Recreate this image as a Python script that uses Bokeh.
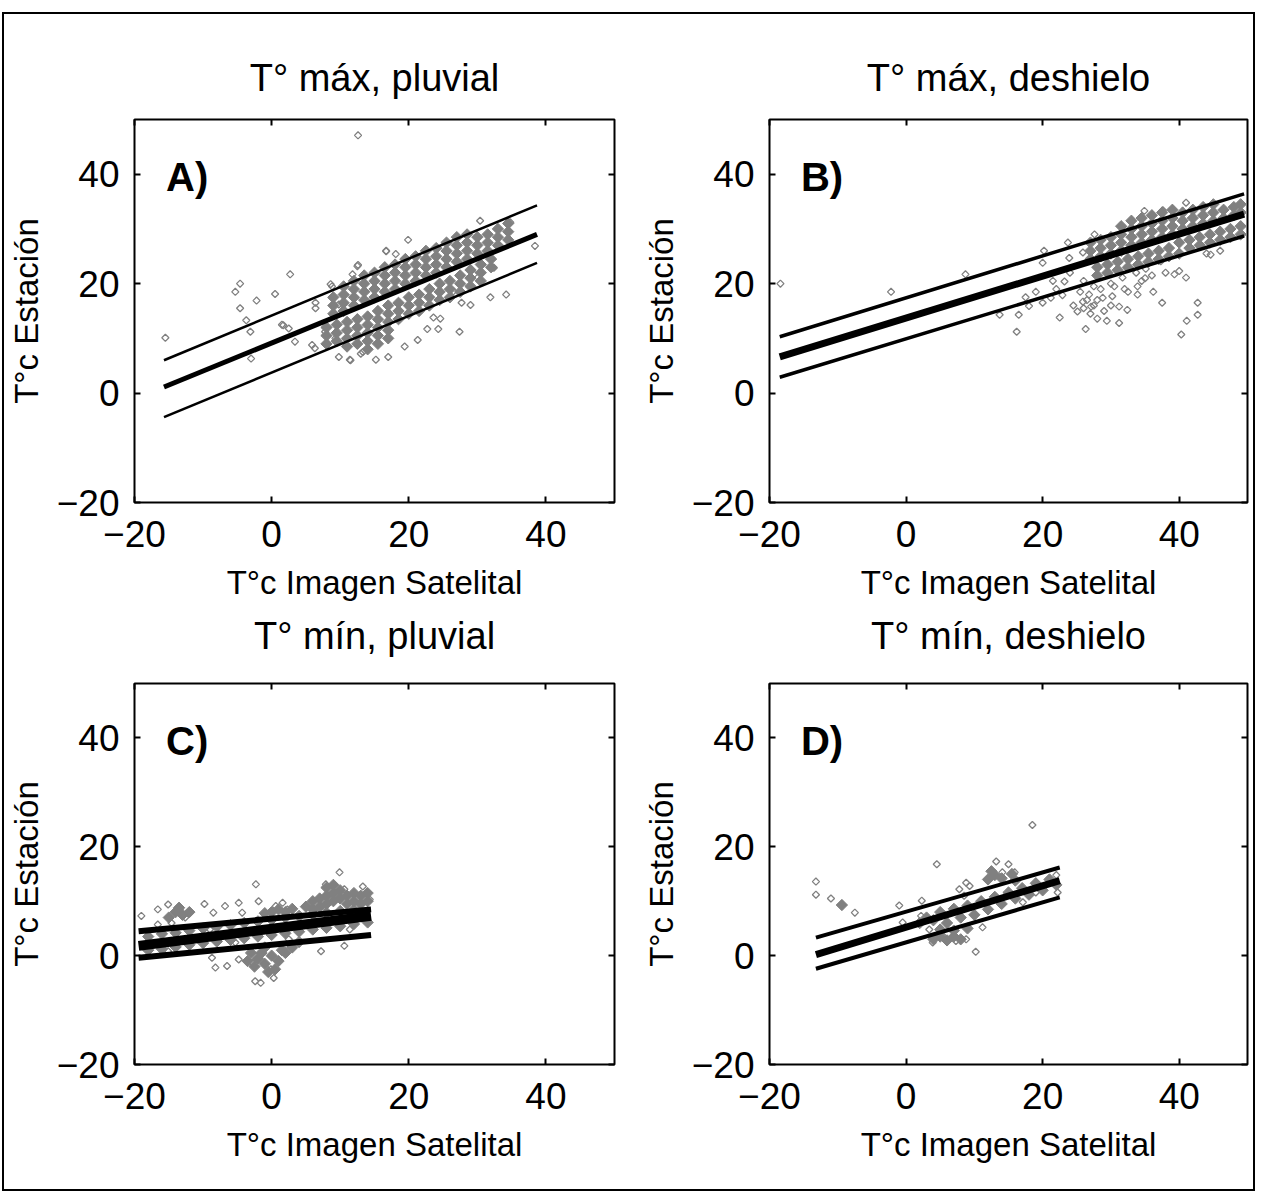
from bokeh.plotting import figure
from bokeh.models import Range1d, FixedTicker, LinearAxis, Label, Title
from bokeh.layouts import column, row
from bokeh.embed import file_html
from bokeh.resources import INLINE

FONT = "Liberation Sans"

# ---------------- data ----------------
titles = ["T° máx, pluvial", "T° máx, deshielo", "T° mín, pluvial", "T° mín, deshielo"]
panel_labels = ["A)", "B)", "C)", "D)"]
x_label = "T°c Imagen Satelital"
y_label = "T°c Estación"
ticks = [-20, 0, 20, 40]

# Panel A : isolated points
a_x = [12.6, -15.5, 2.7, -4.6, -5.3, 0.5, -2.2, -4.6, -3.7, -3.1, 1.7, 3.4, 6.3, 9.8, 11.4, 13.3, 15.2, 17.0, 19.4, 21.3,
       22.7, 24.3, 27.4, 31.9, 34.2, 38.4, 34.8, 30.4, 19.9, 16.7, 12.6, 8.6, 6.4, -3.0, 1.5, 2.5, 6.4, 8.8, 9.8, 7.8,
       9.3, 5.9, 11.5, 13.0, 11.8, 12.5, 16.7, 18.1, 8.8, 32.4, 29.5, 26.5, 29.0, 27.7, 23.6, 24.6]
a_y = [47.1, 10.1, 21.7, 20.0, 18.5, 18.1, 16.9, 15.5, 13.3, 11.2, 12.4, 9.4, 8.2, 6.6, 6.1, 7.5, 6.1, 6.6, 8.5, 9.7,
       11.7, 11.7, 11.2, 17.5, 18.0, 26.9, 31.2, 31.5, 28.0, 25.9, 23.4, 19.9, 16.5, 6.3, 12.5, 11.8, 15.5, 17.4, 16.2, 11.2,
       10.0, 8.8, 6.0, 7.2, 21.7, 23.2, 26.0, 25.4, 19.5, 22.9, 21.7, 18.6, 16.1, 16.5, 13.8, 13.6]
# Panel A : dense cloud
a_dx = [9, 9, 9, 10.5, 10.5, 10.5, 10.5, 12, 12, 12, 12, 13.5, 13.5, 13.5, 13.5, 15, 15, 15, 15, 16.5, 16.5, 16.5, 16.5,
        18, 18, 18, 18, 19.5, 19.5, 19.5, 19.5, 21, 21, 21, 21, 22.5, 22.5, 22.5, 22.5, 24, 24, 24, 24,
        25.5, 25.5, 25.5, 25.5, 27, 27, 27, 27, 28.5, 28.5, 28.5, 28.5, 30, 30, 30, 31.5, 31.5, 31.5, 33, 33, 33,
        34.5, 34.5, 34.5,
        8, 8, 8, 9.5, 9.5, 9.5, 11, 11, 11, 11, 12.5, 12.5, 12.5, 12.5, 14, 14, 14, 14, 14, 15.5, 15.5, 15.5, 15.5, 15.5,
        17, 17, 17, 17, 17, 18.5, 18.5, 18.5, 20, 20, 20, 21.5, 21.5, 21.5, 23, 23, 23, 24.5, 24.5, 24.5,
        26, 26, 26, 27.5, 27.5, 27.5, 29, 29, 29, 30.5, 30.5, 30.5, 32, 32]
a_dy = [14.5, 16, 17.5, 15, 16.5, 18, 19.5, 16, 17.5, 19, 20.5, 17, 18.5, 20, 21.5, 17.5, 19, 20.5, 22, 18.5, 20, 21.5, 23,
        19, 20.5, 22, 23.5, 20, 21.5, 23, 24.5, 20.5, 22, 23.5, 25, 21.5, 23, 24.5, 26, 22, 23.5, 25, 26.5,
        23, 24.5, 26, 27.5, 24, 25.5, 27, 28.5, 24.5, 26, 27.5, 29, 25.5, 27, 28.5, 26, 27.5, 29, 27, 28.5, 30,
        28, 29.5, 31,
        9, 10.5, 12, 9.5, 11, 12.5, 8.5, 10, 11.5, 13, 9, 10.5, 12, 13.5, 8, 9.5, 11, 12.5, 14, 9, 10.5, 12, 13.5, 15,
        10, 11.5, 13, 14.5, 16, 13.5, 15, 16.5, 14.5, 16, 17.5, 15, 16.5, 18, 16, 17.5, 19, 17, 18.5, 20,
        17.5, 19, 20.5, 18.5, 20, 21.5, 19.5, 21, 22.5, 20.5, 22, 23.5, 23, 24.5]
a_fit_x = [-15.7, 38.7]
a_fit_y = [1.1, 29.0]
a_up_y = [6.0, 34.3]
a_lo_y = [-4.4, 23.8]

# Panel B : isolated points
b_x = [-18.4, -2.2, 8.7, 13.7, 16.2, 16.5, 18.0, 20.0, 21.2, 22.5, 26.3, 25.1, 25.9, 26.8, 27.1, 28.0, 29.4, 31.2, 31.2, 32.4,
       28.8, 30.2, 33.9, 33.9, 36.2, 37.5, 39.3, 40.0, 41.0, 42.7, 42.7, 41.1, 40.3, 44.6, 20.0, 23.7, 20.2, 23.2, 22.9, 33.7,
       31.7, 35.1, 37.3, 41.0, 37.6, 34.9, 27.6, 25.9, 23.9,
       26.5, 27.5, 28.0, 26.0, 27.0, 29.0, 30.0, 24.5, 25.5, 28.5, 30.5, 32.5, 34.5, 36.0, 22.0, 19.0, 17.5, 21.5,
       24, 26, 27.5, 30, 32, 35, 38, 44, 46]
b_y = [20.0, 18.5, 21.7, 14.3, 11.2, 14.3, 15.9, 16.5, 17.4, 13.8, 11.7, 14.9, 16.7, 18.0, 15.8, 13.6, 13.2, 12.8, 15.8, 15.2,
       17.4, 17.7, 18.0, 19.5, 18.5, 16.5, 21.7, 22.3, 21.1, 16.5, 14.3, 13.2, 10.7, 25.3, 23.8, 27.5, 26.0, 20.4, 17.9, 22.0,
       21.1, 22.7, 24.1, 34.8, 33.4, 33.3, 29.0, 25.7, 24.7,
       17.0, 16.0, 17.0, 15.5, 14.5, 15.0, 16.0, 16.0, 18.5, 19.0, 19.5, 18.5, 20.5, 21.5, 19.0, 18.5, 17.5, 20.5,
       22, 20.5, 19.5, 20, 19, 21, 22, 25.5, 26]
# Panel B : dense cloud
b_dx = [27, 27, 27, 28.5, 28.5, 28.5, 30, 30, 30, 31.5, 31.5, 31.5, 31.5, 33, 33, 33, 33, 34.5, 34.5, 34.5, 34.5,
        36, 36, 36, 36, 37.5, 37.5, 37.5, 37.5, 39, 39, 39, 39, 40.5, 40.5, 40.5, 42, 42, 42, 43.5, 43.5, 43.5,
        45, 45, 45, 46.5, 46.5, 48, 48, 49, 49,
        28, 28, 29.5, 29.5, 31, 31, 32.5, 32.5, 34, 34, 35.5, 35.5, 37, 37, 38.5, 38.5, 40, 40, 41.5, 41.5,
        43, 43, 44.5, 44.5, 46, 46, 47.5, 47.5, 49, 49]
b_dy = [24.5, 26, 27.5, 25, 26.5, 28, 25.5, 27, 28.5, 26, 27.5, 29, 30.5, 27, 28.5, 30, 31.5, 27.5, 29, 30.5, 32,
        28, 29.5, 31, 32.5, 28.5, 30, 31.5, 33, 29, 30.5, 32, 33.5, 30, 31.5, 33, 30.5, 32, 33.5, 31, 32.5, 34,
        31.5, 33, 34.5, 32, 33.5, 32.5, 34, 33, 34.5,
        21.5, 23, 22, 23.5, 22.5, 24, 23, 24.5, 23.5, 25, 24, 25.5, 24.5, 26, 25, 26.5, 25.5, 27.5, 26.5, 28,
        27, 28.5, 27.5, 29, 28, 29.5, 28.5, 30, 29, 30.5]
b_fit_x = [-18.5, 49.5]
b_fit_y = [6.6, 32.7]
b_up_y = [10.3, 36.4]
b_lo_y = [2.9, 28.7]

# Panel C : isolated points
c_x = [9.9, -2.3, 10.6, 13.3, -19.0, -16.6, -15.1, -13.4, -12.6, -16.6, -14.6, -9.8, -8.5, -6.8, -4.8, -4.3, -1.9, 0.6, 1.6, 2.3,
       7.9, 7.7, 14.3, 11.4, 10.6, 7.2, -18.0, -15.1, -8.7, -8.2, -6.5, -4.8, -2.8, -2.4, -1.6, -0.1, 0.3, -9.0, -5.3, 2.5]
c_y = [15.3, 13.1, 12.2, 12.7, 7.3, 8.5, 9.4, 8.5, 7.0, 5.7, 6.0, 9.5, 7.9, 9.1, 9.7, 7.9, 10.0, 9.1, 9.7, 8.5,
       13.1, 9.1, 10.3, 4.8, 1.8, 0.8, 3.3, 0.8, -0.4, -2.2, -1.9, -0.7, -1.3, -4.7, -5.0, -2.5, -4.1, 4.8, 2.4, 3.0]
# Panel C : dense cloud
c_dx = [5, 6, 7, 7, 8, 8, 9, 9, 10, 10, 11, 11, 12, 12, 13, 13, 14, 14, 8, 9, 6,
        -18, -16, -14, -12, -10, -8, -6, -4, -2, 0, 2, 4, 6, 8, 10, 12,
        -18, -16, -14, -12, -10, -8, -6, -4, -2, 0, 2, 4, 6, 8, 10, 12, 14,
        -3, -2, -1, 0, 1, 2, -2.5, -1.5, 0.5, 1.5, -3.5, -0.5, 3, 4, -1,
        -14, -13, -12, -15, -13.5, 0, 1, 2, -1, 3]
c_dy = [9, 10, 10.5, 9, 11, 9.5, 10, 11.5, 10.5, 12, 9.5, 11, 10, 11.5, 9.5, 11, 10, 11.5, 12.5, 13, 8.5,
        3.5, 4, 4.2, 4.6, 5, 5.3, 5.6, 6, 6.3, 6.6, 7, 7.3, 7.6, 7.9, 8.2, 8.4,
        1, 1.2, 1.6, 2, 2.3, 2.6, 2.9, 3.2, 3.5, 3.8, 4.1, 4.4, 4.8, 5.1, 5.4, 5.8, 6.1,
        0.5, -0.5, -1.5, 0, -1, 0.5, -2, 0.5, -2.5, 1, -1, -3, 1.5, 2.5, 1.5,
        8, 7.5, 8, 7, 8.8, 8, 8.5, 8, 7.8, 8.6]
c_fit_x = [-19.4, 14.5]
c_fit_y = [1.8, 7.3]
c_up_y = [4.5, 8.5]
c_lo_y = [-0.4, 3.8]

# Panel D : isolated points
d_x = [18.5, -13.2, -13.2, -11.0, -7.5, 4.5, 13.2, 15.0, 14.1, 15.9, 8.8, 7.8, 8.5, 9.3, 2.3, -1.0, 22.0, 22.2,
       10.2, 11.2, 3.9, 5.4, 7.3, 8.8, 3.4, 2.2, -0.5, 17.1, 19.0, 21.0]
d_y = [24.0, 13.6, 11.2, 10.5, 7.9, 16.8, 17.3, 16.8, 15.3, 15.3, 13.4, 12.2, 11.0, 12.8, 10.1, 9.2, 14.8, 11.6,
       0.7, 5.2, 2.4, 3.6, 2.7, 3.0, 4.8, 7.3, 6.1, 9.8, 11.6, 13.4]
# Panel D : dense cloud
d_dx = [4, 5, 6, 7, 8, 5, 7, 9, 4, 6, 8, 10, 12, 14, 16, 18, 20, 5, 7, 9, 11, 13, 15, 17, 19, 21,
        12, 13, 12.5, 14, 15.5, 16, 22, -9.4, 2, 3]
d_dy = [3, 3.5, 2.8, 3.5, 3, 4.8, 4.6, 5, 6.5, 6, 7, 7.5, 8.5, 9.5, 10.5, 11.2, 12, 8, 8.6, 9.2, 10, 10.8, 11.6, 12.4, 13.3, 14,
        14, 14.8, 15.5, 14.2, 15, 13.8, 13, 9.3, 6, 7]
d_fit_x = [-13.2, 22.5]
d_fit_y = [0.2, 13.8]
d_up_y = [3.3, 16.2]
d_lo_y = [-2.4, 10.7]

GRAY = "#808080"


def make_title(text, standoff):
    return Title(text=text, align="center", text_font=FONT, text_font_size="38px",
                 text_font_style="normal", text_color="black", standoff=standoff)


def make_panel(title, label, xs, ys, dxs, dys, fx, fy, fu, fl, fw, fh, left, right, top, bottom,
               band_w, mid_w, below_title=None):
    p = figure(frame_width=fw, frame_height=fh, output_backend="svg", toolbar_location=None,
               x_range=Range1d(-20, 50), y_range=Range1d(-20, 50), title=None,
               min_border_left=left, min_border_right=right, min_border_top=top, min_border_bottom=bottom)
    p.grid.visible = False
    p.outline_line_color = "black"
    p.outline_line_width = 2
    p.background_fill_color = "white"
    p.border_fill_color = "white"

    for ax in (p.xaxis[0], p.yaxis[0]):
        ax.ticker = FixedTicker(ticks=ticks)
        ax.major_tick_in = 6
        ax.major_tick_out = 0
        ax.minor_tick_line_color = None
        ax.axis_line_color = None
        ax.major_tick_line_width = 2
        ax.major_tick_line_color = "black"
        ax.major_label_text_font = FONT
        ax.major_label_text_font_size = "37px"
        ax.major_label_text_color = "black"
        ax.axis_label_text_font = FONT
        ax.axis_label_text_font_size = "33px"
        ax.axis_label_text_font_style = "normal"
        ax.axis_label_text_color = "black"
    p.xaxis[0].major_label_standoff = 18
    p.yaxis[0].major_label_standoff = 15
    p.xaxis[0].axis_label = x_label
    p.yaxis[0].axis_label = y_label
    p.xaxis[0].axis_label_standoff = 14
    p.yaxis[0].axis_label_standoff = 9

    for loc in ("above", "right"):
        ax = LinearAxis(ticker=FixedTicker(ticks=ticks))
        ax.major_tick_in = 6
        ax.major_tick_out = 0
        ax.minor_tick_line_color = None
        ax.axis_line_color = None
        ax.major_tick_line_width = 2
        ax.major_label_overrides = {t: "" for t in ticks}
        ax.major_label_standoff = 0
        p.add_layout(ax, loc)

    if title is not None:
        p.add_layout(make_title(title, 42), "above")
    if below_title is not None:
        # title of the panel underneath, drawn in the gap between the two rows
        p.add_layout(make_title(below_title, 18), "below")

    p.scatter(dxs, dys, marker="square", angle=0.785398, size=8,
              fill_color=GRAY, line_color=GRAY, line_width=1)
    p.scatter(xs, ys, marker="square", angle=0.785398, size=5,
              fill_color=None, line_color=GRAY, line_width=1.3)
    p.line(fx, fu, line_color="black", line_width=band_w)
    p.line(fx, fl, line_color="black", line_width=band_w)
    p.line(fx, fy, line_color="black", line_width=mid_w)

    p.add_layout(Label(x=-15.4, y=39.5, text=label, text_font=FONT, text_font_size="40px",
                       text_font_style="bold", text_color="black", text_baseline="middle"))
    return p


pa = make_panel(titles[0], panel_labels[0], a_x, a_y, a_dx, a_dy, a_fit_x, a_fit_y, a_up_y, a_lo_y,
                fw=480, fh=383, left=126, right=25, top=105, bottom=109, band_w=2.5, mid_w=5,
                below_title=titles[2])
pb = make_panel(titles[1], panel_labels[1], b_x, b_y, b_dx, b_dy, b_fit_x, b_fit_y, b_up_y, b_lo_y,
                fw=478, fh=383, left=123, right=6, top=105, bottom=109, band_w=3.5, mid_w=7,
                below_title=titles[3])
pc = make_panel(None, panel_labels[2], c_x, c_y, c_dx, c_dy, c_fit_x, c_fit_y, c_up_y, c_lo_y,
                fw=480, fh=381, left=126, right=25, top=18, bottom=125, band_w=6, mid_w=10)
pd = make_panel(None, panel_labels[3], d_x, d_y, d_dx, d_dy, d_fit_x, d_fit_y, d_up_y, d_lo_y,
                fw=478, fh=381, left=123, right=6, top=18, bottom=125, band_w=4, mid_w=7)

layout = column(row(pa, pb), row(pc, pd),
                styles={"border": "2px solid black", "background": "white",
                        "margin-top": "12px", "margin-left": "2px"})

open("out.html", "w").write(file_html(layout, INLINE))
